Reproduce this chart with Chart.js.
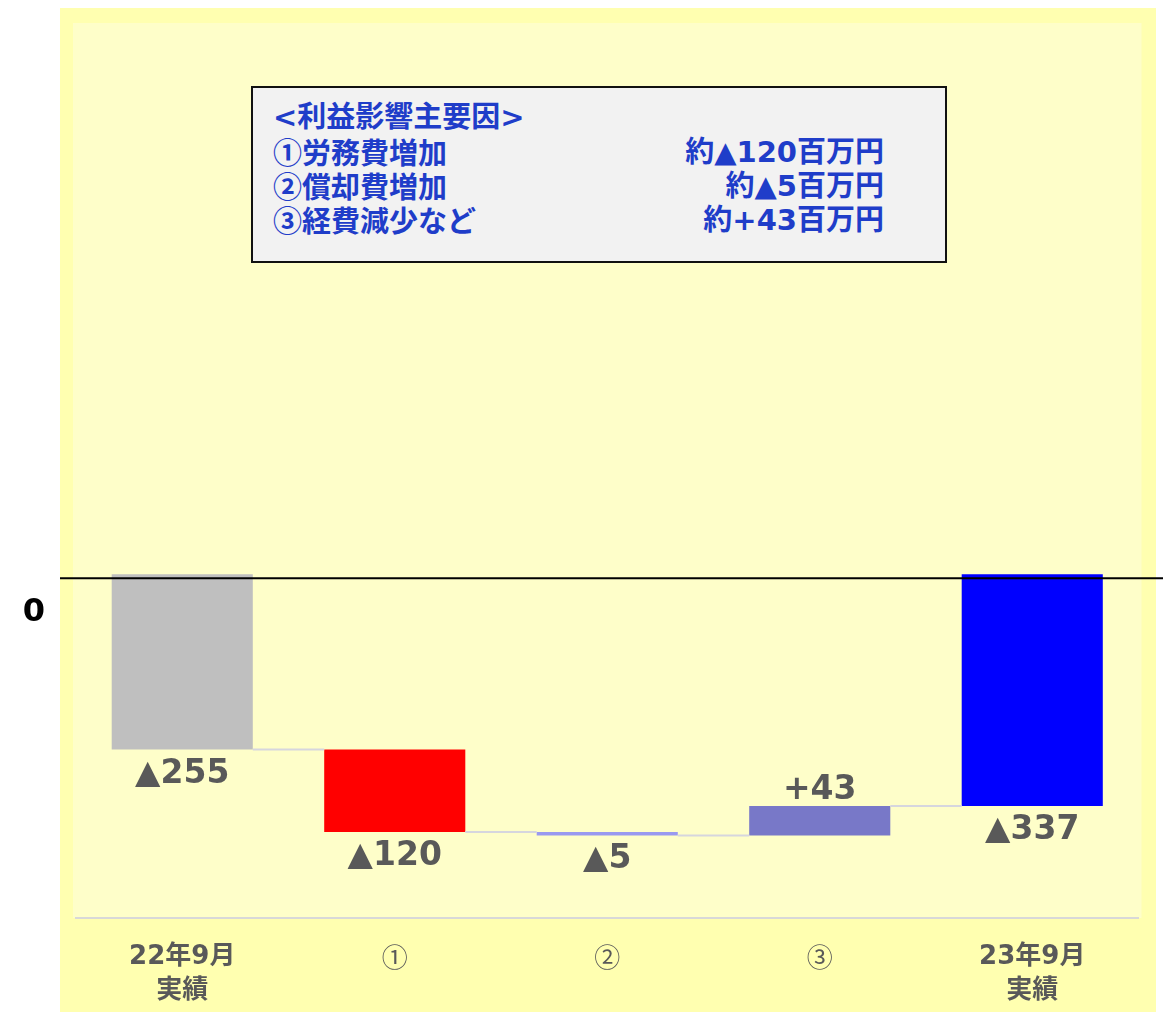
<!DOCTYPE html>
<html lang="ja">
<head>
<meta charset="UTF-8">
<title>営業利益 増減要因</title>
<script src="https://cdn.jsdelivr.net/npm/chart.js"></script>
<style>
  * { margin: 0; padding: 0; box-sizing: border-box; }
  body {
    background: #fff;
    width: 1163px;
    height: 1012px;
    overflow: hidden;
    position: relative;
    font-family: 'DejaVu Sans', 'Noto Sans CJK JP', sans-serif;
  }
  .panel {
    position: absolute;
    left: 60px; top: 8px;
    width: 1096px; height: 1004px;
    background: #ffffb0;
  }
  canvas { position: absolute; left: 0; top: 0; }
  .factors {
    position: absolute;
    left: 251px; top: 86px;
    width: 696px; height: 177px;
    background: #f2f2f2;
    border: 2px solid #111;
    padding: 10px 61px 0 20px;
    color: #1f3dc9;
    font-weight: bold;
    font-size: 29px;
    line-height: 34px;
  }
  .factors .title { height: 37px; display: flex; align-items: center; }
  .factors .row {
    height: 34px;
    display: flex;
    justify-content: space-between;
    align-items: center;
  }
  .factors .num { font-family: 'Noto Sans CJK JP', sans-serif; }
</style>
</head>
<body>
<div class="panel"></div>
<canvas id="chart" width="1163" height="1012"></canvas>
<div class="factors" id="factors"></div>

<script>
// 営業利益（百万円）: 前年実績、増減要因、当年実績
const categories = [['22年9月', '実績'], '①', '②', '③', ['23年9月', '実績']];
const amounts = [-255, -120, -5, 43, -337];
const isTotal = [true, false, false, false, true];
const barColors = ['#bfbfbf', '#ff0000', '#9999f0', '#7878c8', '#0000ff'];
const yTicks = [0];

const factorTitle = '<利益影響主要因>';
const factorMarks = ['①', '②', '③'];
const factorNames = ['労務費増加', '償却費増加', '経費減少など'];
const factorAmounts = [-120, -5, 43];

const fmt = v => (v < 0 ? '▲' + (-v) : '+' + v);

// 要因ボックス
const box = document.getElementById('factors');
const title = document.createElement('div');
title.className = 'title';
title.textContent = factorTitle;
box.appendChild(title);
factorNames.forEach((name, i) => {
  const row = document.createElement('div');
  row.className = 'row';
  const l = document.createElement('span');
  const mark = document.createElement('span');
  mark.className = 'num';
  mark.textContent = factorMarks[i];
  l.append(mark, name);
  const r = document.createElement('span');
  r.textContent = '約' + fmt(factorAmounts[i]) + '百万円';
  row.append(l, r);
  box.appendChild(row);
});

// 滝グラフ用の [開始, 終了]
let running = 0;
const ranges = amounts.map((v, i) => {
  if (isTotal[i]) { running = v; return [0, v]; }
  const start = running;
  running += v;
  return [start, running];
});

const FONT = "'DejaVu Sans', 'Noto Sans CJK JP', sans-serif";
const CJK_FONT = "'Noto Sans CJK JP', sans-serif";
Chart.defaults.font.family = FONT;

const waterfallDecor = {
  id: 'waterfallDecor',
  beforeDraw(chart) {
    const { ctx, chartArea: a } = chart;
    ctx.save();
    ctx.fillStyle = '#fefec9';
    ctx.fillRect(a.left - 3, a.top - 1, a.right - a.left + 6, a.bottom - a.top + 1);
    ctx.restore();
  },
  afterDatasetsDraw(chart) {
    const { ctx } = chart;
    const y = chart.scales.y;
    const bars = chart.getDatasetMeta(0).data;
    ctx.save();

    // 棒と棒をつなぐ線
    ctx.strokeStyle = '#d6d6de';
    ctx.lineWidth = 2;
    for (let i = 0; i < bars.length - 1; i++) {
      const level = y.getPixelForValue(ranges[i][1]);
      ctx.beginPath();
      ctx.moveTo(bars[i].x + bars[i].width / 2, level);
      ctx.lineTo(bars[i + 1].x - bars[i + 1].width / 2, level);
      ctx.stroke();
    }

    // ゼロ線
    const zero = y.getPixelForValue(0) + 4;
    ctx.strokeStyle = '#000';
    ctx.lineWidth = 2;
    ctx.beginPath();
    ctx.moveTo(chart.chartArea.left - 16, zero);
    ctx.lineTo(chart.width, zero);
    ctx.stroke();

    // 数値ラベル
    ctx.font = 'bold 33px ' + FONT;
    ctx.fillStyle = '#595959';
    ctx.textAlign = 'center';
    ctx.textBaseline = 'alphabetic';
    bars.forEach((bar, i) => {
      const v = amounts[i];
      const bottomPx = y.getPixelForValue(Math.min(...ranges[i]));
      const topPx = y.getPixelForValue(Math.max(...ranges[i]));
      const ty = v < 0 ? bottomPx + 33 : topPx - 7;
      ctx.fillText(fmt(v), bar.x, ty);
    });
    ctx.restore();
  }
};

new Chart(document.getElementById('chart'), {
  type: 'bar',
  data: {
    labels: categories,
    datasets: [{
      data: ranges,
      backgroundColor: barColors,
      borderWidth: 0,
      barPercentage: 0.664,
      categoryPercentage: 1
    }]
  },
  options: {
    responsive: false,
    animation: false,
    layout: { padding: { top: 24, right: 24.5, bottom: 0, left: 0 } },
    plugins: {
      legend: { display: false },
      tooltip: { enabled: false }
    },
    scales: {
      x: {
        grid: { display: true, color: 'rgba(0,0,0,0)', drawTicks: false },
        border: { display: true, color: '#d8d8d8', width: 2 },
        ticks: {
          color: '#595959',
          // 丸数字は和文フォントで
          font: c => ({
            family: Array.isArray(categories[c.index]) ? FONT : CJK_FONT,
            size: 26,
            weight: Array.isArray(categories[c.index]) ? 'bold' : 'normal',
            lineHeight: 1.32
          }),
          padding: 22,
          maxRotation: 0,
          autoSkip: false
        },
        afterFit(s) { s.height = 94; }
      },
      y: {
        min: -500,
        max: 800,
        grid: { display: false },
        border: { display: false },
        afterBuildTicks(s) { s.ticks = yTicks.map(v => ({ value: v })); },
        ticks: {
          color: '#000',
          font: { size: 32, weight: 'bold' },
          padding: 23,
          labelOffset: 39
        },
        afterFit(s) {
          s.width = 76;
          s.paddingTop = 0;
          s.paddingBottom = 0;
        }
      }
    }
  },
  plugins: [waterfallDecor]
});
</script>
</body>
</html>
